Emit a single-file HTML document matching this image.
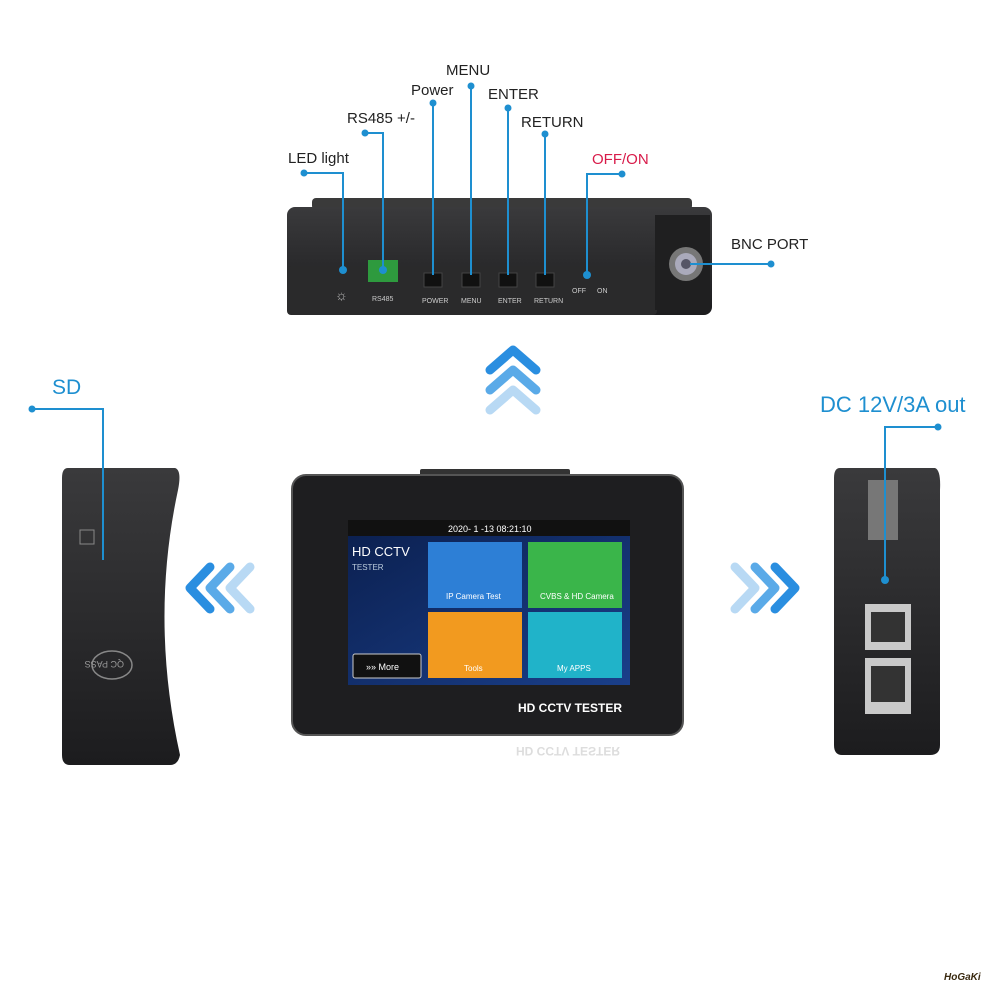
<!DOCTYPE html>
<html><head><meta charset="utf-8"><style>
body{margin:0;background:#fff;}
svg{display:block;font-family:"Liberation Sans",sans-serif;}
</style></head><body>
<svg width="1000" height="1000" viewBox="0 0 1000 1000">
<defs>
<linearGradient id="scr" x1="0" y1="0" x2="1" y2="1"><stop offset="0" stop-color="#0b1f4e"/><stop offset="1" stop-color="#1a3f8a"/></linearGradient>
<linearGradient id="dev" x1="0" y1="0" x2="0" y2="1"><stop offset="0" stop-color="#3a3a3c"/><stop offset="1" stop-color="#1c1c1e"/></linearGradient>
</defs>
<!-- Top device -->
<rect x="312" y="198" width="380" height="12" rx="4" fill="#3a3a3a"/>
<rect x="287" y="207" width="425" height="108" rx="8" fill="url(#dev)"/>
<rect x="287" y="266" width="370" height="49" rx="4" fill="#2a2a2b"/>
<rect x="655" y="215" width="55" height="95" fill="#1f1f20"/>
<circle cx="686" cy="264" r="17" fill="#777"/><circle cx="686" cy="264" r="11" fill="#aab"/><circle cx="686" cy="264" r="5" fill="#556"/>
<rect x="368" y="260" width="30" height="22" fill="#2e9a3e"/>
<g fill="#111" stroke="#444"><rect x="424" y="273" width="18" height="14"/><rect x="462" y="273" width="18" height="14"/><rect x="499" y="273" width="18" height="14"/><rect x="536" y="273" width="18" height="14"/></g>
<g fill="#ccc" font-size="7"><text x="372" y="301">RS485</text><text x="422" y="303">POWER</text><text x="461" y="303">MENU</text><text x="498" y="303">ENTER</text><text x="534" y="303">RETURN</text><text x="572" y="293">OFF</text><text x="597" y="293">ON</text></g>
<text x="335" y="300" fill="#bbb" font-size="14">☼</text>
<!-- chevrons -->
<g fill="none" stroke-linecap="round" stroke-linejoin="round" stroke-width="9">
<polyline points="490,370 513,350 536,370" stroke="#2a8ee0"/>
<polyline points="490,390 513,370 536,390" stroke="#5aaae8"/>
<polyline points="490,410 513,390 536,410" stroke="#b8d9f4"/>
<polyline points="210,567 190,588 210,609" stroke="#2a8ee0"/>
<polyline points="230,567 210,588 230,609" stroke="#5aaae8"/>
<polyline points="250,567 230,588 250,609" stroke="#b8d9f4"/>
<polyline points="775,567 795,588 775,609" stroke="#2a8ee0"/>
<polyline points="755,567 775,588 755,609" stroke="#5aaae8"/>
<polyline points="735,567 755,588 735,609" stroke="#b8d9f4"/>
</g>
<!-- left device -->
<path d="M68,468 L175,468 Q182,470 178,490 Q150,620 180,755 Q178,765 170,765 L70,765 Q62,765 62,755 L62,478 Q62,468 68,468Z" fill="url(#dev)"/>
<rect x="80" y="530" width="14" height="14" fill="none" stroke="#888"/>
<ellipse cx="112" cy="665" rx="20" ry="14" fill="none" stroke="#888" stroke-width="1.5"/>
<text x="100" y="669" fill="#999" font-size="9" transform="rotate(180 112 665)">QC PASS</text>
<!-- right device -->
<path d="M840,468 L935,468 Q941,470 940,490 L940,745 Q940,755 930,755 L842,755 Q834,755 834,745 L834,478 Q834,468 840,468Z" fill="url(#dev)"/>
<rect x="868" y="480" width="30" height="60" fill="#777"/>
<rect x="865" y="604" width="46" height="46" fill="#c9c9c9"/><rect x="871" y="612" width="34" height="30" fill="#333"/>
<rect x="865" y="658" width="46" height="56" fill="#c9c9c9"/><rect x="871" y="666" width="34" height="36" fill="#333"/>
<!-- center device -->
<rect x="420" y="469" width="150" height="8" rx="2" fill="#333"/>
<rect x="292" y="475" width="391" height="260" rx="14" fill="#1e1e20" stroke="#555" stroke-width="2"/>
<rect x="348" y="520" width="282" height="165" fill="url(#scr)"/>
<rect x="348" y="520" width="282" height="16" fill="#111"/>
<text x="448" y="532" fill="#fff" font-size="9">2020- 1 -13 08:21:10</text>
<text x="352" y="556" fill="#fff" font-size="13">HD CCTV</text>
<text x="352" y="570" fill="#bcd" font-size="8">TESTER</text>
<rect x="353" y="654" width="68" height="24" rx="2" fill="#111" stroke="#ccc"/>
<text x="366" y="670" fill="#fff" font-size="9">»» More</text>
<rect x="428" y="542" width="94" height="66" fill="#2d7fd6"/>
<rect x="528" y="542" width="94" height="66" fill="#3ab54a"/>
<rect x="428" y="612" width="94" height="66" fill="#f29a1f"/>
<rect x="528" y="612" width="94" height="66" fill="#20b3c9"/>
<g fill="#fff" font-size="8"><text x="446" y="599">IP Camera Test</text><text x="540" y="599">CVBS &amp; HD Camera</text><text x="464" y="671">Tools</text><text x="557" y="671">My APPS</text></g>
<text x="518" y="712" fill="#fff" font-size="12" font-weight="bold">HD CCTV TESTER</text>
<text x="516" y="753" fill="#ddd" font-size="12" font-weight="bold" transform="scale(1,-1) translate(0,-1500)">HD CCTV TESTER</text>
<!-- connectors on top -->
<g stroke="#1e8fd0" stroke-width="2" fill="none">
<polyline points="304,173 343,173 343,270"/><polyline points="365,133 383,133 383,270"/>
<line x1="433" y1="103" x2="433" y2="275"/><line x1="471" y1="86" x2="471" y2="275"/>
<line x1="508" y1="108" x2="508" y2="275"/><line x1="545" y1="134" x2="545" y2="275"/>
<polyline points="622,174 587,174 587,275"/><line x1="771" y1="264" x2="690" y2="264"/>
<polyline points="32,409 103,409 103,560"/><polyline points="938,427 885,427 885,580"/>
</g>
<g fill="#1e8fd0"><circle cx="304" cy="173" r="3.5"/><circle cx="365" cy="133" r="3.5"/><circle cx="433" cy="103" r="3.5"/><circle cx="471" cy="86" r="3.5"/><circle cx="508" cy="108" r="3.5"/><circle cx="545" cy="134" r="3.5"/><circle cx="622" cy="174" r="3.5"/><circle cx="771" cy="264" r="3.5"/><circle cx="32" cy="409" r="3.5"/><circle cx="938" cy="427" r="3.5"/>
<circle cx="343" cy="270" r="4"/><circle cx="383" cy="270" r="4"/><circle cx="587" cy="275" r="4"/><circle cx="885" cy="580" r="4"/></g>
<g fill="#222" font-size="15"><text x="288" y="163">LED light</text><text x="347" y="123">RS485 +/-</text><text x="411" y="95">Power</text><text x="446" y="75">MENU</text><text x="488" y="99">ENTER</text><text x="521" y="127">RETURN</text><text x="731" y="249">BNC PORT</text></g>
<text x="592" y="164" fill="#d81b4a" font-size="15">OFF/ON</text>
<text x="52" y="394" fill="#1e8fd0" font-size="21">SD</text>
<text x="820" y="412" fill="#1e8fd0" font-size="22">DC 12V/3A out</text>
<text x="944" y="980" fill="#3a2a10" font-size="10" font-weight="bold" font-style="italic">HoGaKi</text>
</svg>
</body></html>
